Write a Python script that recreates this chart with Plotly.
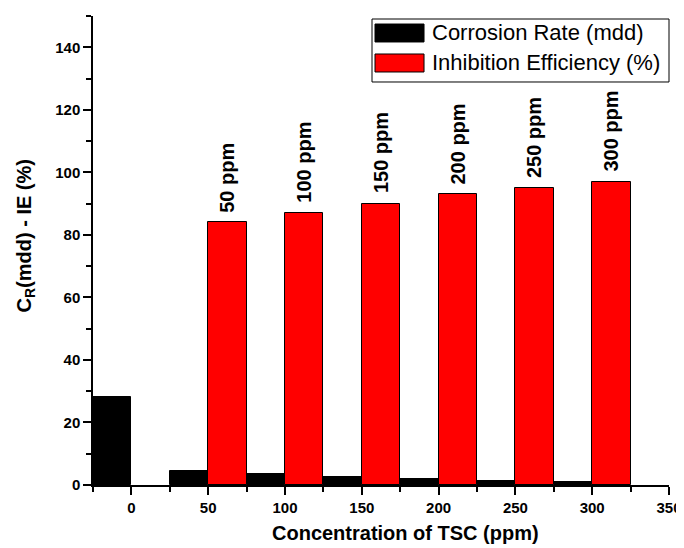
import plotly.graph_objects as go

concentrations = [0, 50, 100, 150, 200, 250, 300]
corrosion_rate = [28.2, 4.5, 3.6, 2.7, 1.9, 1.4, 0.9]
inhibition_eff = [None, 84, 87, 90, 93, 95, 97]
bar_labels = ["", "50 ppm", "100 ppm", "150 ppm", "200 ppm", "250 ppm", "300 ppm"]
series_names = ["Corrosion Rate (mdd)", "Inhibition Efficiency (%)"]
series_colors = ["black", "#ff0000"]
x_title = "Concentration of TSC (ppm)"
y_title = "C<sub>R</sub>(mdd) - IE (%)"

FONT = "Liberation Sans, Arial, sans-serif"

fig = go.Figure()
fig.add_trace(go.Bar(
    x=concentrations, y=corrosion_rate, name=series_names[0],
    marker=dict(color=series_colors[0], line=dict(color="black", width=1)),
))
fig.add_trace(go.Bar(
    x=concentrations, y=inhibition_eff, name=series_names[1],
    marker=dict(color=series_colors[1], line=dict(color="black", width=1)),
))

for c, v, t in zip(concentrations, inhibition_eff, bar_labels):
    if t and v is not None:
        fig.add_annotation(
            x=c + 12.5, y=v, text="<b>%s</b>" % t, textangle=-90,
            showarrow=False, xanchor="center", yanchor="bottom", yshift=8,
            font=dict(family=FONT, size=20, color="black"),
        )

# legend box drawn in the plot-area (paper) frame, with wide swatches as in the original
fig.add_shape(type="rect", xref="paper", yref="paper", x0=0.4844, x1=1.0,
              y0=0.8593, y1=0.9936, line=dict(color="black", width=1),
              fillcolor="white", layer="above")
swatch_rows = [(0.9446, 0.9829, 0.9638), (0.8806, 0.9190, 0.8998)]
for (y0, y1, yc), name, col in zip(swatch_rows, series_names, series_colors):
    fig.add_shape(type="rect", xref="paper", yref="paper", x0=0.4896, x1=0.5747,
                  y0=y0, y1=y1, line=dict(color="black", width=1),
                  fillcolor=col, layer="above")
    fig.add_annotation(xref="paper", yref="paper", x=0.5851, y=yc, text=name,
                       showarrow=False, xanchor="left", yanchor="middle",
                       font=dict(family=FONT, size=22, color="black"))

# axis titles (placed as in the original, slightly off-centre)
fig.add_annotation(xref="paper", yref="paper", x=0.5417, y=-0.1023,
                   text="<b>%s</b>" % x_title, showarrow=False,
                   xanchor="center", yanchor="middle",
                   font=dict(family=FONT, size=20, color="black"))
fig.add_annotation(xref="paper", yref="paper", x=-0.118, y=0.5299,
                   text="<b>%s</b>" % y_title, showarrow=False, textangle=-90,
                   xanchor="center", yanchor="middle",
                   font=dict(family=FONT, size=20, color="black"))

axis_common = dict(
    showline=True, linecolor="black", linewidth=1.5, showgrid=False,
    zeroline=False, tickcolor="black", tickwidth=1.5, automargin=False,
)

# the page body adds an 8px offset, so the figure is 8px smaller than the window
fig.update_layout(
    width=676, height=540,
    margin=dict(l=85, r=15, t=8, b=63),
    paper_bgcolor="white", plot_bgcolor="white",
    barmode="group", bargap=0, bargroupgap=0,
    font=dict(family=FONT, color="black"),
    showlegend=False,
    xaxis=dict(
        range=[-25, 350], tick0=0, dtick=50, ticks="outside", ticklen=8,
        minor=dict(dtick=25, ticks="outside", ticklen=5, tickcolor="black", tickwidth=1.5),
        tickfont=dict(family=FONT, size=15, color="black", weight="bold"),
        **axis_common,
    ),
    yaxis=dict(
        range=[0, 150], tick0=0, dtick=20, ticks="outside", ticklen=8,
        minor=dict(dtick=10, ticks="outside", ticklen=5, tickcolor="black", tickwidth=1.5),
        tickfont=dict(family=FONT, size=15, color="black", weight="bold"),
        **axis_common,
    ),
    xaxis2=dict(
        overlaying="x", side="top", anchor="y", matches="x",
        range=[-25, 350], tick0=0, dtick=50, ticks="inside", ticklen=6,
        minor=dict(dtick=25, ticks="inside", ticklen=3, tickcolor="black", tickwidth=1.5),
        showticklabels=False, **axis_common,
    ),
    yaxis2=dict(
        overlaying="y", side="right", anchor="x", matches="y",
        range=[0, 150], tick0=0, dtick=20, ticks="inside", ticklen=6,
        minor=dict(dtick=10, ticks="inside", ticklen=3, tickcolor="black", tickwidth=1.5),
        showticklabels=False, **axis_common,
    ),
)

fig.write_html("out.html")
